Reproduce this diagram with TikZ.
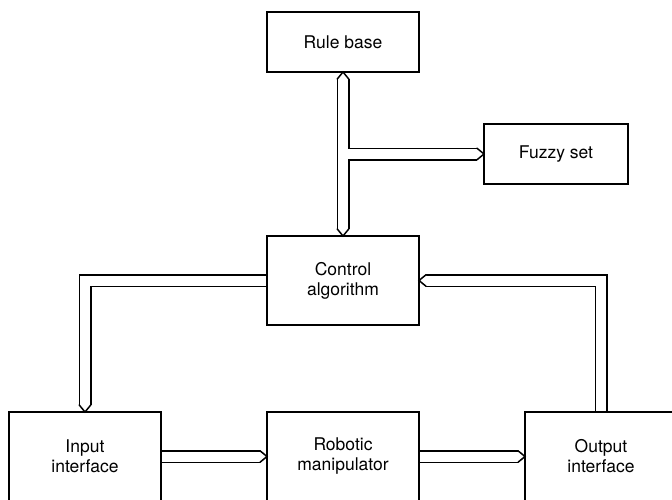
\documentclass[tikz,border=0pt]{standalone}
\usepackage{fontspec}
\setmainfont{TeX Gyre Heros}
\usetikzlibrary{positioning,calc,backgrounds}
\tikzset{
  blockBox/.style={
    rectangle,
    draw=black,
    line width=0.75pt,
    minimum width=76pt,
    minimum height=44.5pt,
    outer sep=0pt,
    align=center,
    font=\fontsize{8.75}{10}\selectfont
  },
  smallBox/.style={
    blockBox,
    minimum height=30pt
  },
  pipeLine/.style={
    draw=black,
    line width=0.75pt,
    double=white,
    double distance=5pt
  },
  pipeTip/.pic={
    \fill[white] (-5.75,7) -- (0,0) -- (5.75,7) -- cycle;
    \draw[line width=0.75pt, line cap=round] (-5.75,7) -- (0,0) -- (5.75,7);
  }
}

\begin{document}
\begin{tikzpicture}[x=0.5pt,y=0.5pt]
    \useasboundingbox (0,0) rectangle (672,499);
    \clip (0,0) rectangle (672,499);
    \node[blockBox] (ctrl) at (343,218.5) {Control\\algorithm};
    \node[smallBox, above=82pt of ctrl] (rule) {Rule base};
    \node[smallBox, minimum width=72pt, below right=26pt and 32.5pt of rule] (fuzzy) {Fuzzy set};
    \node[blockBox, below=43.5pt of ctrl] (robot) {Robotic\\manipulator};
    \node[blockBox, left=53pt of robot] (input) {Input\\interface};
    \node[blockBox, right=53pt of robot] (output) {Output\\interface};

    \begin{scope}[on background layer]
        \draw[pipeLine, shorten <=3.5pt, shorten >=3.5pt] (rule.south) -- (ctrl.north);
        \draw[pipeLine, shorten >=3.5pt] ($(rule.south |- fuzzy.west)+(5,0)$) -- (fuzzy.west);
        \draw[pipeLine, shorten >=3.5pt] (ctrl.west) -| (input.north);
        \draw[pipeLine, shorten >=3.5pt] (output.north) |- (ctrl.east);
        \draw[pipeLine, shorten >=3.5pt] (input) -- (robot);
        \draw[pipeLine, shorten >=3.5pt] (robot) -- (output);
        \pic[rotate=180] at (rule.south) {pipeTip};
        \pic at (ctrl.north) {pipeTip};
        \pic[rotate=90] at (fuzzy.west) {pipeTip};
        \pic at (input.north) {pipeTip};
        \pic[rotate=-90] at (ctrl.east) {pipeTip};
        \pic[rotate=90] at (robot.west) {pipeTip};
        \pic[rotate=90] at (output.west) {pipeTip};
    \end{scope}
\end{tikzpicture}
\end{document}
